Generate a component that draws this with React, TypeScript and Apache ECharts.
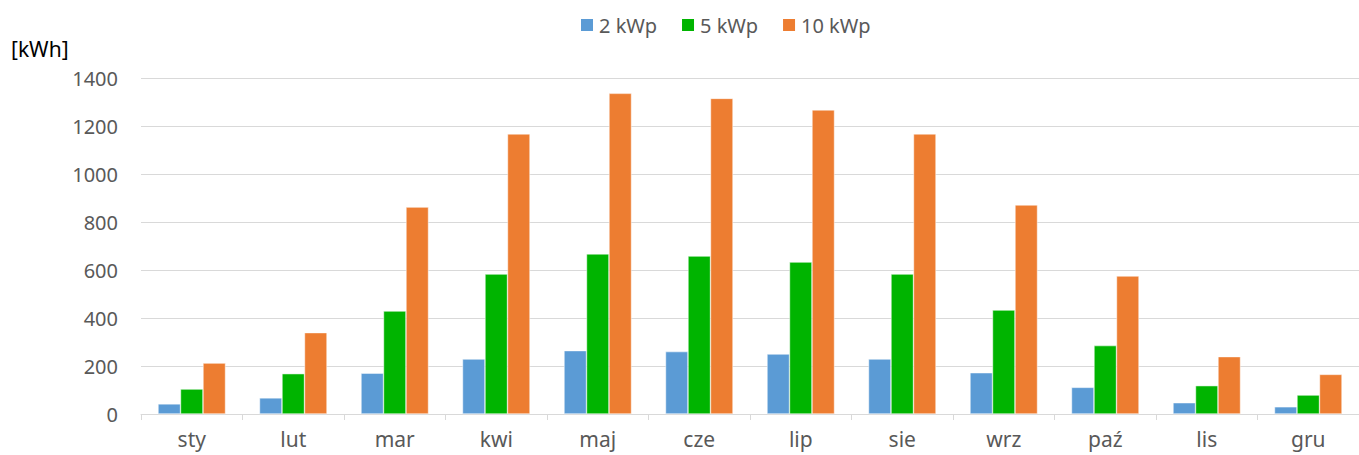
import React, { useEffect, useRef } from "react";
import * as echarts from "echarts";

const months = ["sty", "lut", "mar", "kwi", "maj", "cze", "lip", "sie", "wrz", "paź", "lis", "gru"];
const kwp2 = [42, 67, 170, 229, 264, 260, 250, 229, 172, 111, 47, 30];
const kwp5 = [104, 168, 429, 583, 667, 658, 633, 583, 433, 285, 118, 79];
const kwp10 = [212, 339, 862, 1167, 1336, 1315, 1267, 1167, 871, 575, 239, 165];
const seriesNames = ["2 kWp", "5 kWp", "10 kWp"];
const colors = ["#5B9BD5", "#00B400", "#ED7D31"];

const FONT = "'Noto Sans', 'Open Sans', sans-serif";

export default function App() {
  const ref = useRef<HTMLDivElement>(null);
  useEffect(() => {
    if (!ref.current) return;
    const chart = echarts.init(ref.current, undefined, { renderer: "svg" });
    const data = [kwp2, kwp5, kwp10];
    chart.setOption({
      animation: false,
      textStyle: { fontFamily: FONT },
      legend: {
        left: 574,
        top: 10,
        itemWidth: 14,
        itemHeight: 14,
        itemGap: 23,
        icon: "rect",
        textStyle: { fontSize: 20, color: "#595959", fontFamily: FONT },
        data: seriesNames,
      },
      graphic: [
        {
          type: "text",
          left: 11,
          top: 38,
          style: { text: "[kWh]", fontSize: 21, fill: "#000", fontFamily: FONT },
        },
      ],
      grid: { left: 141, top: 78, height: 336, width: 1229 },
      xAxis: {
        type: "category",
        data: months,
        axisLine: { lineStyle: { color: "#d9d9d9", width: 1 } },
        axisTick: { show: true, length: 6, lineStyle: { color: "#d9d9d9" } },
        axisLabel: { fontSize: 21, color: "#595959", margin: 14, fontFamily: FONT },
      },
      yAxis: {
        type: "value",
        min: 0,
        max: 1400,
        interval: 200,
        axisLine: { show: false },
        axisTick: { show: false },
        splitLine: { lineStyle: { color: "#d9d9d9", width: 1 } },
        axisLabel: {
          fontSize: 20,
          color: "#595959",
          margin: 23,
          fontFamily: FONT,
          formatter: (v: number) => String(v),
        },
      },
      series: seriesNames.map((n, i) => ({
        name: n,
        type: "bar",
        data: data[i],
        barGap: "0%",
        barCategoryGap: "33.5%",
        itemStyle: { color: colors[i], borderColor: "#fff", borderWidth: 0.5 },
      })),
    });
    return () => chart.dispose();
  }, []);
  return (
    <div
      ref={ref}
      style={{ position: "fixed", left: 0, top: 0, width: 1359, height: 455, background: "#fff" }}
    />
  );
}
